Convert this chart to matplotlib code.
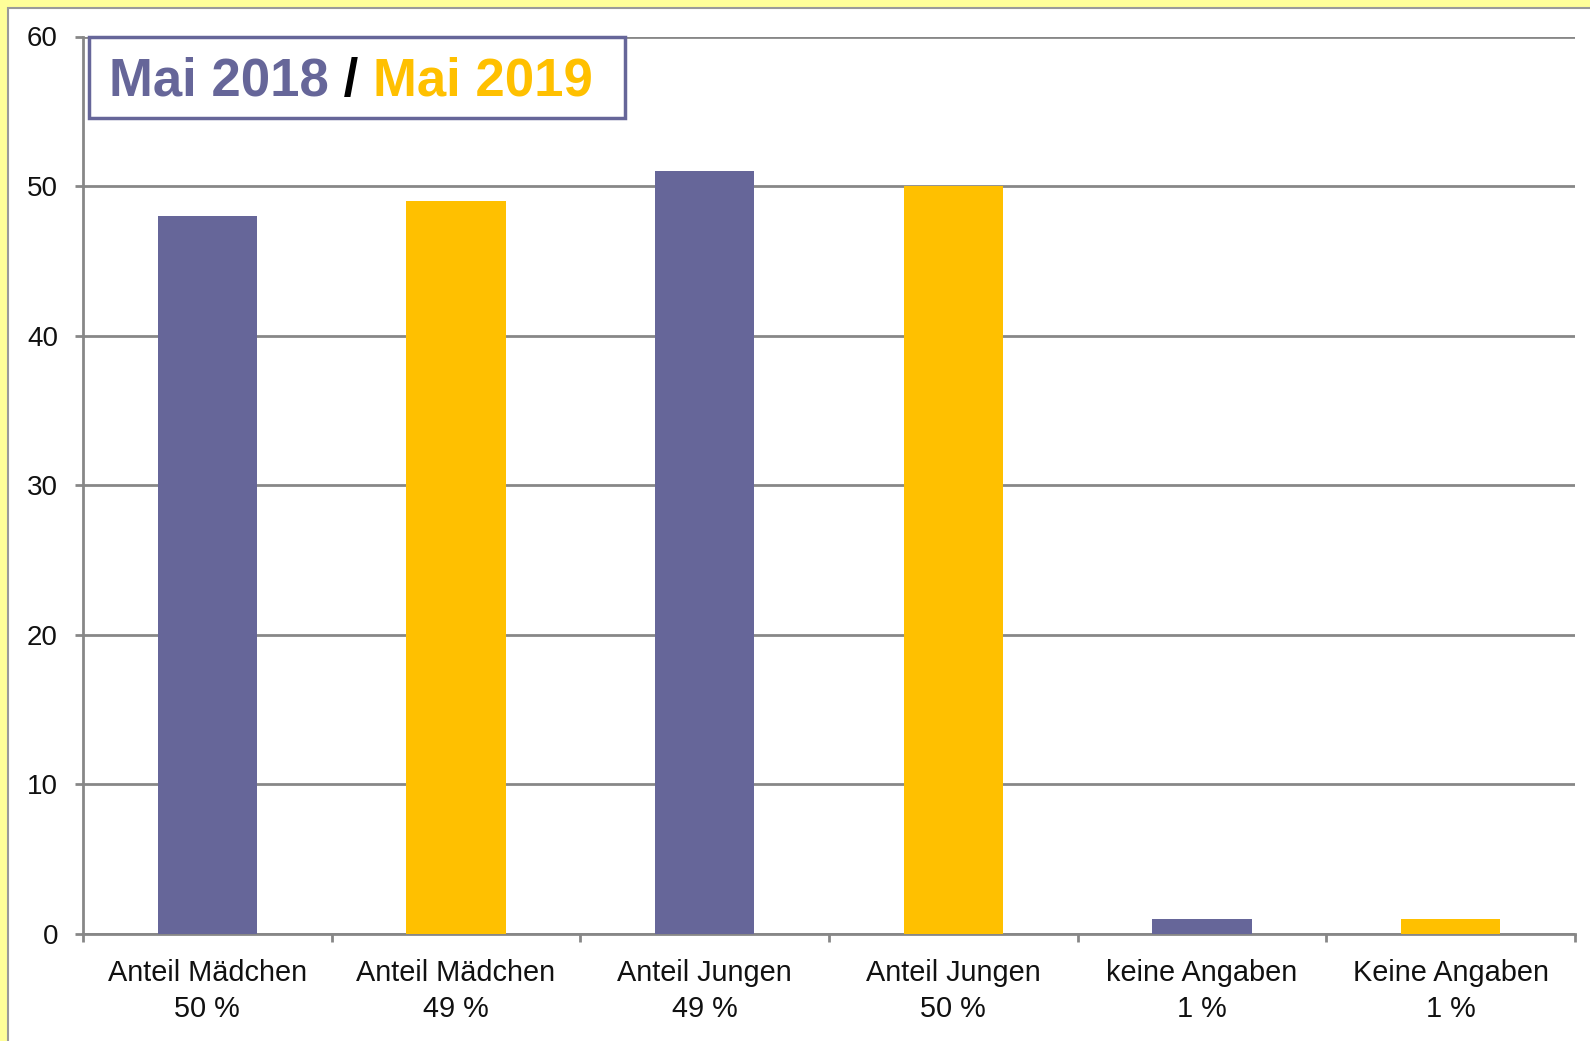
import matplotlib
matplotlib.use("Agg")
import matplotlib.pyplot as plt
from matplotlib.patches import Rectangle

categories = ["Anteil Mädchen", "Anteil Mädchen", "Anteil Jungen", "Anteil Jungen",
              "keine Angaben", "Keine Angaben"]
percent_labels = ["50 %", "49 %", "49 %", "50 %", "1 %", "1 %"]
values = [48, 49, 51, 50, 1, 1]
series_year = ["2018", "2019", "2018", "2019", "2018", "2019"]
yticks = [0, 10, 20, 30, 40, 50, 60]

PURPLE = "#666699"
YELLOW = "#FFC000"
GRID = "#878787"
colors = [PURPLE if s == "2018" else YELLOW for s in series_year]

plt.rcParams['font.family'] = ['Liberation Sans', 'DejaVu Sans']

W, H = 1590, 1041
fig = plt.figure(figsize=(W / 100, H / 100), dpi=100)
fig.patch.set_facecolor("#FFFF99")

# inner white panel
fig.patches.append(Rectangle((8 / W, -0.1), 1.2, (H - 8) / H + 0.1,
                             transform=fig.transFigure, facecolor="white",
                             edgecolor="#9a9a9a", linewidth=1.5, zorder=-10))

ax = fig.add_axes([83 / W, 1 - 934 / H, (1575 - 83) / W, (934 - 36.5) / H])
ax.set_facecolor("none")

x = list(range(len(values)))
ax.bar(x, values, width=0.4, color=colors, zorder=3)

ax.set_xlim(-0.5, len(values) - 0.5)
ax.set_ylim(0, 60)
ax.set_yticks(yticks)
ax.set_yticklabels([str(t) for t in yticks])
ax.yaxis.grid(True, color=GRID, linewidth=2, zorder=1)
ax.set_axisbelow(True)

ax.set_xticks(x)
ax.set_xticklabels([f"{c}\n{p}" for c, p in zip(categories, percent_labels)],
                   linespacing=1.35)
ax.set_xticks([i - 0.5 for i in range(len(values) + 1)], minor=True)
ax.tick_params(axis='x', which='major', length=0, pad=18, labelsize=20.8, colors="#111111")
ax.tick_params(axis='x', which='minor', length=6, width=2, color=GRID, direction='out')
ax.tick_params(axis='y', length=6, width=2, color=GRID, pad=12, labelsize=20,
               labelcolor="#111111")

for s in ["top", "right"]:
    ax.spines[s].set_visible(False)
for s in ["left", "bottom"]:
    ax.spines[s].set_color(GRID)
    ax.spines[s].set_linewidth(2)

# title box
fig.patches.append(Rectangle((89 / W, 1 - 118 / H), (625 - 89) / W, (118 - 37) / H,
                             transform=fig.transFigure, facecolor="white",
                             edgecolor=PURPLE, linewidth=2.5, zorder=5))
renderer = fig.canvas.get_renderer()
xpos = 109
for txt, col in [("Mai 2018", PURPLE), (" / ", "black"), ("Mai 2019", YELLOW)]:
    t = fig.text(xpos / W, 1 - 96 / H, txt, color=col, fontsize=38,
                 fontweight='bold', ha='left', va='baseline', zorder=6)
    bb = t.get_window_extent(renderer=renderer)
    xpos += bb.width

fig.savefig("out.png", dpi=100, facecolor=fig.get_facecolor())
